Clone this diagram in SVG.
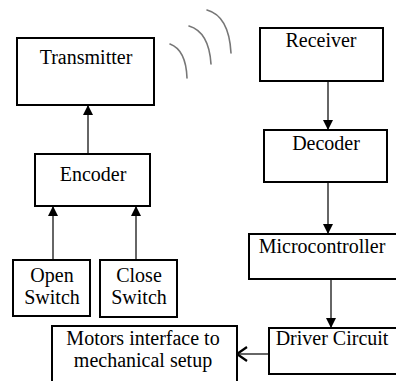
<svg xmlns="http://www.w3.org/2000/svg" width="396" height="381" viewBox="0 0 396 381" font-family="Liberation Serif, DejaVu Serif, Times New Roman, serif">
  <style>
    .box { fill: #ffffff; stroke: #000000; stroke-width: 2; }
    .lbl { font-size: 20px; fill: #000000; text-anchor: middle; }
    .wire { stroke: #333333; stroke-width: 1.5; fill: none; }
    .wave { stroke: #777777; stroke-width: 1.6; fill: none; stroke-linecap: round; }
  </style>
  <defs>
    <marker id="solid" viewBox="0 0 10 10" refX="10" refY="5" markerWidth="10" markerHeight="10" markerUnits="userSpaceOnUse" orient="auto">
      <path d="M0,0 L10,5 L0,10 Z" fill="#000000"/>
    </marker>
    <marker id="open" viewBox="0 0 12 16" refX="11" refY="8" markerWidth="12" markerHeight="16" markerUnits="userSpaceOnUse" orient="auto">
      <path d="M1,1 L11,8 L1,15" fill="none" stroke="#000000" stroke-width="2.2"/>
    </marker>
  </defs>
  <rect width="396" height="381" fill="#ffffff"/>

  <!-- radio waves -->
  <g id="waves">
    <path class="wave" d="M170,44 Q186,50 187,78"/>
    <path class="wave" d="M189,26 Q209,32 211,64"/>
    <path class="wave" d="M207,10 Q229,16 231,53"/>
  </g>

  <g id="connectors">
    <line class="wire" x1="88" y1="154" x2="88" y2="105" marker-end="url(#solid)"/>
    <line class="wire" x1="53" y1="260" x2="53" y2="206" marker-end="url(#solid)"/>
    <line class="wire" x1="136" y1="260" x2="136" y2="206" marker-end="url(#solid)"/>
    <line class="wire" x1="328" y1="81" x2="328" y2="130" marker-end="url(#solid)"/>
    <line class="wire" x1="328" y1="182" x2="328" y2="234" marker-end="url(#solid)"/>
    <line class="wire" x1="331" y1="279" x2="331" y2="328" marker-end="url(#solid)"/>
    <line class="wire" x1="269" y1="354" x2="237" y2="354" marker-end="url(#open)"/>
  </g>

  <g id="transmitter">
    <rect class="box" x="17" y="38" width="137" height="67"/>
    <text class="lbl" x="86" y="64">Transmitter</text>
  </g>
  <g id="encoder">
    <rect class="box" x="35" y="154" width="115" height="52"/>
    <text class="lbl" x="93" y="181">Encoder</text>
  </g>
  <g id="open-switch">
    <rect class="box" x="13" y="260" width="77" height="56"/>
    <text class="lbl" x="52" y="282">Open</text>
    <text class="lbl" x="52" y="304">Switch</text>
  </g>
  <g id="close-switch">
    <rect class="box" x="100" y="260" width="77" height="57"/>
    <text class="lbl" x="139" y="282">Close</text>
    <text class="lbl" x="139" y="304">Switch</text>
  </g>
  <g id="receiver">
    <rect class="box" x="260" y="28" width="123" height="53"/>
    <text class="lbl" x="321" y="47">Receiver</text>
  </g>
  <g id="decoder">
    <rect class="box" x="264" y="130" width="123" height="52"/>
    <text class="lbl" x="326" y="150">Decoder</text>
  </g>
  <g id="microcontroller">
    <rect class="box" x="249" y="234" width="160" height="45"/>
    <text class="lbl" x="322" y="253">Microcontroller</text>
  </g>
  <g id="driver-circuit">
    <rect class="box" x="269" y="328" width="140" height="46"/>
    <text class="lbl" x="332" y="345">Driver Circuit</text>
  </g>
  <g id="motors">
    <rect class="box" x="52" y="326" width="185" height="70"/>
    <text class="lbl" x="143" y="345">Motors interface to</text>
    <text class="lbl" x="143" y="367">mechanical setup</text>
  </g>
</svg>
